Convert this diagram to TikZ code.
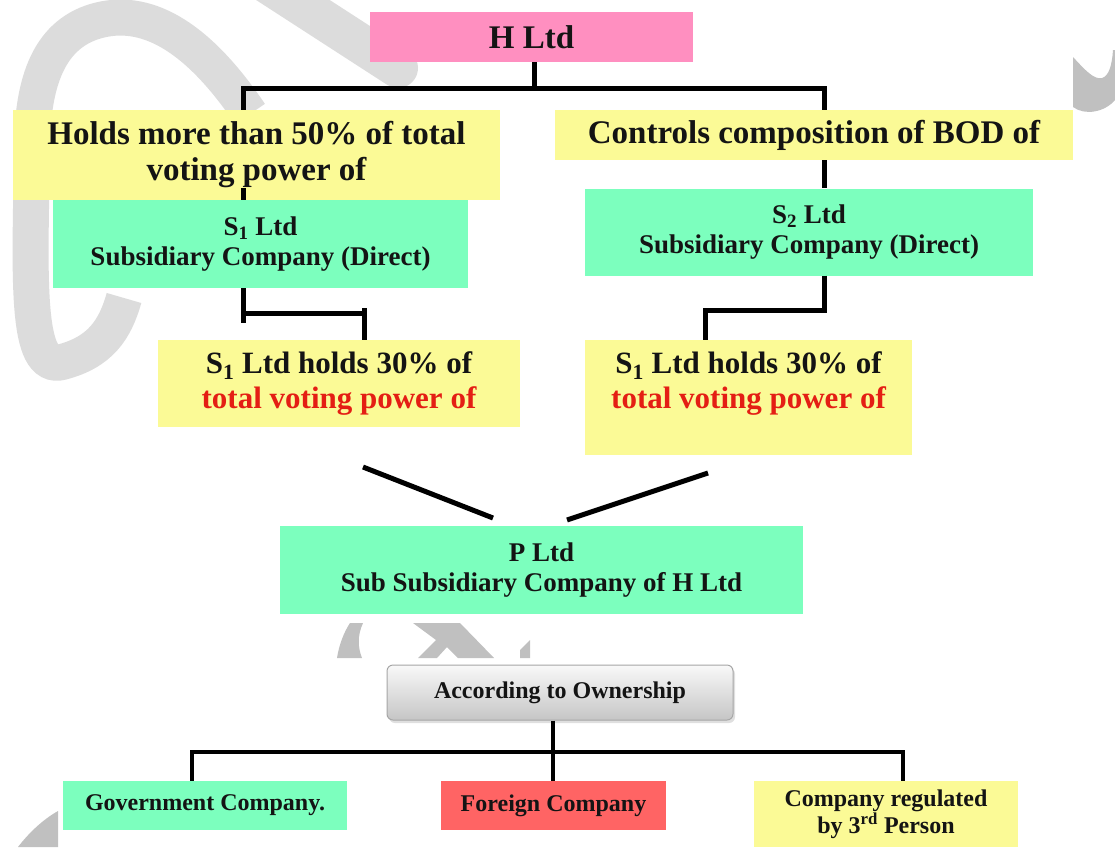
\documentclass[tikz,border=0pt]{standalone}
\usepackage{fontspec}
\setmainfont{Liberation Serif}
\usetikzlibrary{shadows}
\definecolor{ypel}{RGB}{251,250,150}
\definecolor{gree}{RGB}{124,255,190}
\definecolor{pink}{RGB}{255,143,192}
\definecolor{redb}{RGB}{255,100,100}
\definecolor{redt}{RGB}{228,30,20}
\definecolor{wm}{RGB}{220,220,220}
\definecolor{wmd}{RGB}{192,192,192}
\tikzset{
  box/.style={inner sep=0pt, align=center, anchor=center, text=black!92},
  bigt/.style={font=\bfseries\fontsize{33}{36}\selectfont},
  midt/.style={font=\bfseries\fontsize{31}{35}\selectfont},
  grnt/.style={font=\bfseries\fontsize{27}{30}\selectfont},
  smlt/.style={font=\bfseries\fontsize{24}{25}\selectfont},
  con/.style={line width=5pt, black, line join=miter},
}
\begin{document}
\begin{tikzpicture}[x=1pt,y=-1pt]
\useasboundingbox (0,0) rectangle (1115,847);
\fill[white] (0,0) rectangle (1115,847);
% watermark
\begin{scope}
\clip (0,0) rectangle (1115,847);
\draw[wm, line width=40pt, line cap=round] (262,-20) -- (398,68);
\draw[wm, line width=36pt] (250,114) .. controls (200,40) and (150,8) .. (100,20)
  .. controls (50,32) and (32,80) .. (32,150)
  .. controls (30,280) and (25,372) .. (62,362)
  .. controls (100,352) and (115,330) .. (124,298);
\fill[wmd] (350,623) -- (363,623) .. controls (357,636) and (358,648) .. (362,658) -- (337,658) .. controls (339,645) and (344,632) .. (350,623) -- cycle;
\fill[wmd] (413,623) -- (460,623) -- (494,658) -- (458,658) -- (447,647) -- (437,658) -- (418,658) -- (436,640) -- cycle;
\fill[wmd] (520,650) -- (530,640) -- (530,658) -- (520,658) -- cycle;
\fill[wmd] (1073,57) .. controls (1085,70) and (1094,80) .. (1102,78) .. controls (1109,76) and (1112,65) .. (1113,50) -- (1115,50) -- (1115,100) .. controls (1105,112) and (1085,116) .. (1073,107) -- cycle;
\fill[wmd] (58,811) .. controls (42,820) and (28,834) .. (18,847) -- (58,847) -- cycle;
\end{scope}
% boxes
\node[box, bigt, fill=pink, minimum width=323, minimum height=50] (h) at (531.5,37) {H Ltd};
\node[box, bigt, fill=ypel, minimum width=487, minimum height=90] (y1) at (256.5,155) {Holds more than 50\% of total\\voting power of};
\node[box, grnt, fill=gree, minimum width=415, minimum height=88] (g1) at (260.5,244) {S\textsubscript{1} Ltd\\Subsidiary Company (Direct)};
\node[box, bigt, fill=ypel, minimum width=518, minimum height=50] (y2) at (814,135) {Controls composition of BOD of};
\node[box, grnt, fill=gree, minimum width=448, minimum height=87] (g2) at (809,232) {S\textsubscript{2} Ltd\\Subsidiary Company (Direct)};
\node[box, midt, fill=ypel, minimum width=362, minimum height=87] (y3) at (339,383.5) {S\textsubscript{1} Ltd holds 30\% of\\\textcolor{redt}{total voting power of}};
\node[box, fill=ypel, minimum width=327, minimum height=115] (y4) at (748.5,397.5) {};
\node[box, midt] (y4t) at (748.5,383.5) {S\textsubscript{1} Ltd holds 30\% of\\\textcolor{redt}{total voting power of}};
\node[box, grnt, fill=gree, minimum width=523, minimum height=88] (p) at (541.5,570) {P Ltd\\Sub Subsidiary Company of H Ltd};
\node[box, smlt, rounded corners=6pt, draw=gray!70, line width=1pt, top color=gray!5, bottom color=gray!45,
  drop shadow={opacity=0.25, shadow xshift=2pt, shadow yshift=-3pt},
  minimum width=346, minimum height=55] (a) at (560,692.5) {According to Ownership};
\node[box, smlt, fill=gree, minimum width=284, minimum height=49] (gov) at (205,805.5) {Government Company.};
\node[box, smlt, fill=redb, minimum width=225, minimum height=49] (for) at (553.5,805.5) {Foreign Company};
\node[box, smlt, fill=ypel, minimum width=264, minimum height=66] (third) at (886,814) {Company regulated\\by 3\textsuperscript{rd} Person};
% connector points
\coordinate (hv) at (534,88);
\coordinate (j1) at (243,88);
\coordinate (j2) at (824,88);
\coordinate (k1) at (243,313);
\coordinate (k2) at (364,313);
\coordinate (k3) at (824,310);
\coordinate (k4) at (705,310);
\coordinate (s1) at (363,467);
\coordinate (s2) at (493,518);
\coordinate (s3) at (567,520);
\coordinate (s4) at (708,473);
\coordinate (m) at (553,752);
\coordinate (b1) at (192,752);
\coordinate (b3) at (903,752);
% connectors
\draw[con] (h.south -| hv) -- (hv);
\draw[con] (y1.north -| j1) -- (j1) -- (j2) -- (y2.north -| j2);
\draw[con] ([yshift=12pt]y1.south -| j1) -- (g1.north -| j1);
\draw[con] (g1.south -| k1) -- ([yshift=-10pt]k1);
\draw[con] (k1) -- (k2);
\draw[con] ([yshift=5pt]k2) -- (y3.north -| k2);
\draw[con] (y2.south -| j2) -- (g2.north -| j2);
\draw[con] (g2.south -| k3) -- (k3) -- (k4) -- (y4.north -| k4);
\draw[con] (s1) -- (s2);
\draw[con] (s3) -- (s4);
\draw[con, line width=4.5pt] (a.south -| m) -- (for.north -| m);
\draw[con, line width=4.5pt] (gov.north -| b1) -- (b1) -- (b3) -- (third.north -| b3);
\end{tikzpicture}
\end{document}
